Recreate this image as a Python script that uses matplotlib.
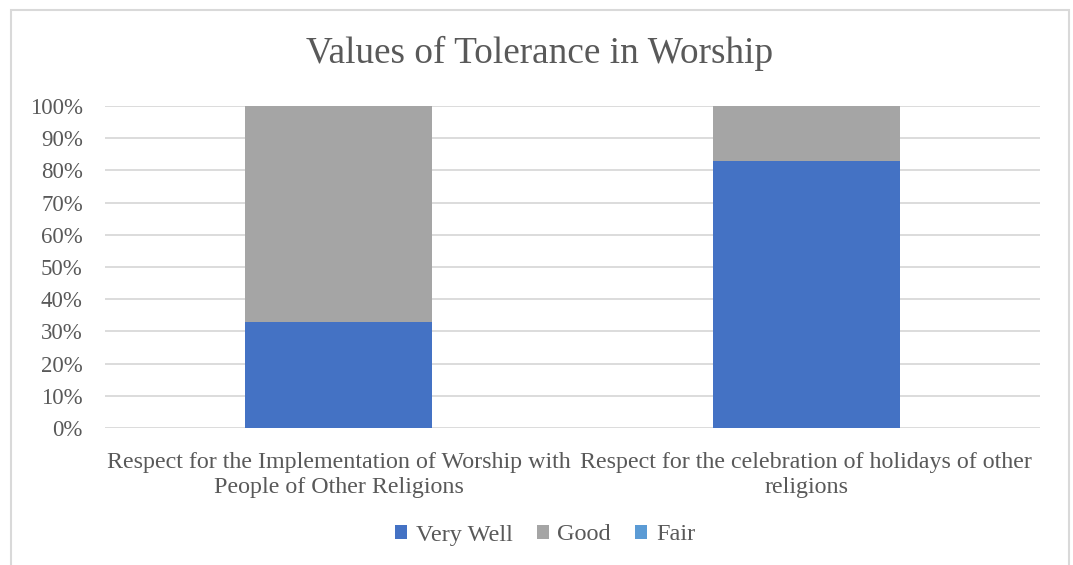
import matplotlib.pyplot as plt
from matplotlib.patches import Rectangle
from matplotlib.ticker import PercentFormatter

plt.rcParams['font.family'] = ['Liberation Serif', 'DejaVu Serif']

categories = ["Respect for the Implementation of Worship with\nPeople of Other Religions",
              "Respect for the celebration of holidays of other\nreligions"]
very_well = [33, 83]
good = [67, 17]
fair = [0, 0]

text_color = "#595959"
grid_color = "#D9D9D9"

fig = plt.figure(figsize=(10.73, 5.65), dpi=100)
ax = fig.add_axes([105/1073, 1 - 428/565, 935/1073, 322/565])

x = [0, 1]
ax.bar(x, very_well, width=0.4, color="#4472C4", label="Very Well", zorder=3)
ax.bar(x, good, width=0.4, bottom=very_well, color="#A5A5A5", label="Good", zorder=3)
bottom2 = [a + b for a, b in zip(very_well, good)]
ax.bar(x, fair, width=0.4, bottom=bottom2, color="#5B9BD5", label="Fair", zorder=3)

ax.set_xlim(-0.5, 1.5)
ax.set_ylim(0, 100)
ax.set_yticks(range(0, 101, 10))
ax.yaxis.set_major_formatter(PercentFormatter(decimals=0))
ax.set_xticks(x)
ax.set_xticklabels(categories, fontsize=17.3, color=text_color, linespacing=1.25)
ax.tick_params(axis='y', labelsize=16.5, labelcolor=text_color, length=0, pad=16)
ax.tick_params(axis='x', length=0, pad=17)
ax.grid(axis='y', color=grid_color, linewidth=1.3, zorder=0)
for s in ax.spines.values():
    s.set_visible(False)

fig.text(540/1073, 1 - 53/565, "Values of Tolerance in Worship", ha='center', va='center',
         fontsize=26.8, color=text_color)

fig.legend(loc='center', bbox_to_anchor=(545/1073, 1 - 535/565), ncol=3, frameon=False,
           fontsize=17.5, labelcolor=text_color, handlelength=0.5, handleheight=0.5,
           handletextpad=0.35, columnspacing=1.0)

# chart border (bottom edge cut off in the reference)
fig.patches.append(Rectangle((11/1073, -0.05), 1058/1073, 1.05 - 10/565, transform=fig.transFigure,
                             fill=False, edgecolor="#D9D9D9", linewidth=1.5))

fig.savefig("out.png", dpi=100)
